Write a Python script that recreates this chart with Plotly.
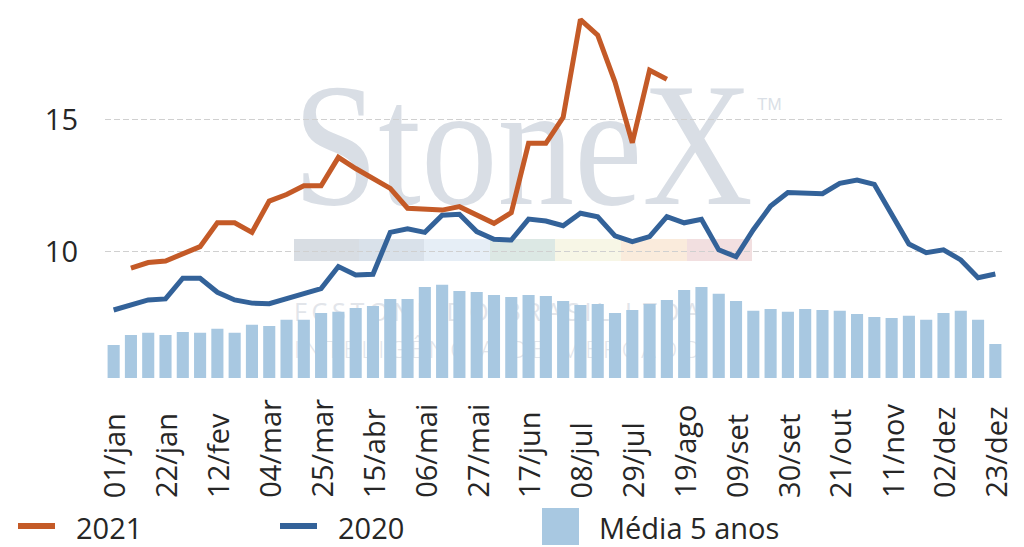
import base64
import plotly.graph_objects as go

# ---------------- data ----------------
weeks = ["01/jan", "08/jan", "15/jan", "22/jan", "29/jan", "05/fev", "12/fev", "19/fev", "26/fev",
         "04/mar", "11/mar", "18/mar", "25/mar", "01/abr", "08/abr", "15/abr", "22/abr", "29/abr",
         "06/mai", "13/mai", "20/mai", "27/mai", "03/jun", "10/jun", "17/jun", "24/jun", "01/jul",
         "08/jul", "15/jul", "22/jul", "29/jul", "05/ago", "12/ago", "19/ago", "26/ago", "02/set",
         "09/set", "16/set", "23/set", "30/set", "07/out", "14/out", "21/out", "28/out", "04/nov",
         "11/nov", "18/nov", "25/nov", "02/dez", "09/dez", "16/dez", "23/dez"]

tick_labels = ["01/jan", "22/jan", "12/fev", "04/mar", "25/mar", "15/abr", "06/mai", "27/mai",
               "17/jun", "08/jul", "29/jul", "19/ago", "09/set", "30/set", "21/out", "11/nov",
               "02/dez", "23/dez"]

media_5_anos = [6.49, 6.87, 6.95, 6.87, 6.98, 6.95, 7.10, 6.95, 7.25, 7.21,
                7.44, 7.44, 7.70, 7.74, 7.89, 7.96, 8.23, 8.23, 8.68, 8.76,
                8.53, 8.49, 8.38, 8.30, 8.38, 8.34, 8.15, 8.00, 8.04, 7.70,
                7.81, 8.04, 8.19, 8.57, 8.68, 8.42, 8.15, 7.78, 7.85, 7.74,
                7.85, 7.81, 7.78, 7.66, 7.55, 7.51, 7.59, 7.44, 7.70, 7.78,
                7.44, 6.53]

serie_2020 = [7.81, 8.00, 8.19, 8.23, 9.01, 9.01, 8.48, 8.19, 8.07, 8.05,
              8.23, 8.44, 8.62, 9.45, 9.13, 9.16, 10.74, 10.87, 10.74, 11.39,
              11.42, 10.77, 10.48, 10.45, 11.24, 11.17, 10.99, 11.46, 11.33, 10.61,
              10.39, 10.58, 11.33, 11.10, 11.23, 10.08, 9.82, 10.84, 11.73, 12.24,
              12.21, 12.20, 12.59, 12.71, 12.55, 11.46, 10.30, 9.97, 10.08, 9.70,
              9.03, 9.17]

serie_2021 = [None,
              9.39, 9.60, 9.66, 9.92, 10.20, 11.10, 11.10, 10.74, 11.92, 12.17,
              12.50, 12.50, 13.57, 13.15, 12.80, 12.40, 11.65, 11.61, 11.58, 11.71,
              11.39, 11.08, 11.48, 14.10, 14.10, 15.08, 18.77, 18.18, 16.41, 14.12,
              16.86, 16.52] + [None] * 19

# ---------------- styling ----------------
ORANGE = "#C45A27"
BLUE = "#336299"
BARC = "#A8C8E1"
TXT = "#262626"
FONT = "Open Sans"
FS = 29

W, H = 1024, 547
ML, MR, MT, MB = 105, 20, 10, 169
PW, PH = W - ML - MR, H - MT - MB


def px(x):
    return (x - ML) / PW


def py(y):
    return (H - MB - y) / PH


fig = go.Figure()
fig.add_trace(go.Bar(x=weeks, y=media_5_anos, name="Média 5 anos",
                     marker=dict(color=BARC, line=dict(width=0))))
fig.add_trace(go.Scatter(x=weeks, y=serie_2020, name="2020", mode="lines",
                         line=dict(color=BLUE, width=5)))
fig.add_trace(go.Scatter(x=weeks, y=serie_2021, name="2021", mode="lines",
                         line=dict(color=ORANGE, width=5), connectgaps=False))

# watermark (logo-like) as svg image behind the plot
band_cols = ["#D8DDE3", "#D9E1EA", "#E6EEF6", "#DCE8E4", "#F7F6E6", "#FAEBDC", "#F2DFE0"]
band_x = [294, 359, 424, 490, 555, 621, 687, 752]
rects = "".join(
    f'<rect x="{band_x[i]}" y="239" width="{band_x[i+1]-band_x[i]}" height="22" fill="{c}"/>'
    for i, c in enumerate(band_cols))
svg = (
    '<svg xmlns="http://www.w3.org/2000/svg" width="1024" height="547" viewBox="0 0 1024 547">'
    '<text x="293" y="204" font-family="Liberation Serif, DejaVu Serif, serif" font-size="176" '
    'fill="#D9DEE5" textLength="460" lengthAdjust="spacingAndGlyphs">StoneX</text>'
    '<text x="757" y="110" font-family="Liberation Sans, sans-serif" font-size="17" fill="#DADFE6">TM</text>'
    + rects +
    '<text x="294" y="321" font-family="Open Sans, sans-serif" font-size="25" fill="#E2E5EA" '
    'textLength="406" lengthAdjust="spacing">FCSTONE DO BRASIL LTDA</text>'
    '<text x="294" y="358" font-family="Open Sans, sans-serif" font-weight="300" font-size="24" fill="#E2E5EA" '
    'textLength="406" lengthAdjust="spacing">INTELIGÊNCIA DE MERCADO</text>'
    '</svg>'
)
uri = "data:image/svg+xml;base64," + base64.b64encode(svg.encode("utf-8")).decode("ascii")

annotations = []
# x tick labels, bottom aligned, rotated
for lab in tick_labels:
    annotations.append(dict(x=lab, xref="x", y=py(500), yref="paper", text=lab, textangle=-90,
                            showarrow=False, xanchor="center", yanchor="bottom",
                            font=dict(family=FONT, size=FS, color=TXT)))

# custom legend
legend_items = [("2021", ORANGE, "line", 18), ("2020", BLUE, "line", 280), ("Média 5 anos", BARC, "box", 542)]
shapes = []
for name, col, kind, x0 in legend_items:
    if kind == "line":
        shapes.append(dict(type="line", xref="paper", yref="paper", x0=px(x0), x1=px(x0 + 37),
                           y0=py(526), y1=py(526), line=dict(color=col, width=6)))
        tx = x0 + 56
    else:
        shapes.append(dict(type="rect", xref="paper", yref="paper", x0=px(x0), x1=px(x0 + 37),
                           y0=py(508), y1=py(545), line=dict(width=0), fillcolor=col))
        tx = x0 + 55
    annotations.append(dict(x=px(tx), y=py(527), xref="paper", yref="paper", text=name,
                            showarrow=False, xanchor="left", yanchor="middle",
                            font=dict(family=FONT, size=FS, color=TXT)))

fig.update_layout(
    width=W, height=H,
    margin=dict(l=ML, r=MR, t=MT, b=MB, pad=0),
    paper_bgcolor="white", plot_bgcolor="rgba(0,0,0,0)",
    showlegend=False,
    bargap=0.3,
    font=dict(family=FONT, size=FS, color=TXT),
    xaxis=dict(type="category", categoryorder="array", categoryarray=weeks,
               range=[-0.5, 51.5], showticklabels=False, showgrid=False,
               zeroline=False, showline=False, ticks=""),
    yaxis=dict(range=[5.245, 19.13], tickvals=[10, 15], ticktext=["10", "15"],
               showgrid=True, gridcolor="#D0D0D0", gridwidth=1.4, griddash="6px,3px",
               zeroline=False, showline=False, ticks="", ticklabelstandoff=26,
               tickfont=dict(family=FONT, size=FS, color=TXT)),
    annotations=annotations,
    shapes=shapes,
    images=[dict(source=uri, xref="paper", yref="paper", x=px(0), y=py(0),
                 sizex=W / PW, sizey=H / PH, xanchor="left", yanchor="top",
                 sizing="stretch", layer="below")],
)

fig.write_html("out.html", config={"displayModeBar": False},
               post_script="document.body.style.margin='0';")
